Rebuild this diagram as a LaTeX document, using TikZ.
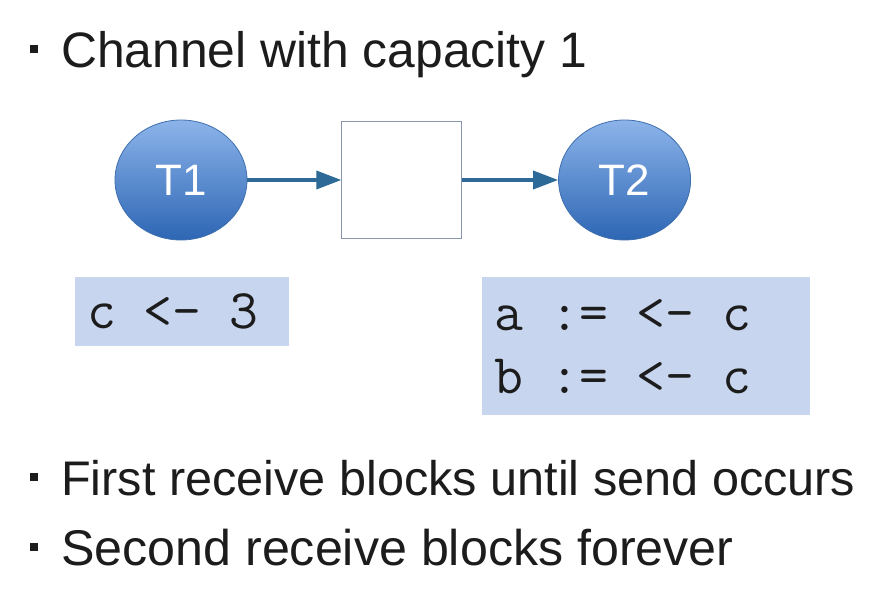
\documentclass[tikz,border=0pt]{standalone}
\usepackage{fontspec}
\setmainfont{Liberation Sans}
\usetikzlibrary{positioning,shapes.geometric,arrows.meta}
\definecolor{tasktop}{HTML}{8CB4EA}
\definecolor{taskbot}{HTML}{2D66B4}
\definecolor{taskedge}{HTML}{3F6FAD}
\definecolor{flowcol}{HTML}{2D6A97}
\definecolor{chanedge}{HTML}{8796AE}
\definecolor{codefill}{HTML}{C8D5EE}
\definecolor{textcol}{HTML}{1C1C1C}
% one fixed cell per character
\makeatletter
\newcommand\monoline[1]{\@tfor\ch:=#1\do{\makebox[28.5pt]{\ch}}}
\makeatother
\tikzset{
  task/.style={ellipse,minimum width=132pt,minimum height=120pt,draw=taskedge,thick,
    top color=tasktop,bottom color=taskbot,text=white,font=\fontsize{44}{50}\selectfont},
  chanbox/.style={draw=chanedge,thick,fill=white,minimum width=120pt,minimum height=117pt},
  code/.style={fill=codefill,align=left,inner ysep=0pt,
    font=\ttfamily\fontsize{56}{63}\selectfont},
  flow/.style={draw=flowcol,line width=3.5pt,-{Triangle[length=25pt,width=18pt]}}
}
\begin{document}
\begin{tikzpicture}[x=1pt,y=-1pt,text=textcol]
	\useasboundingbox[fill=white] (0,0) rectangle (887,611);
	% bullets
	\foreach \y/\s/\txt [count=\i] in {67/49.8/Channel with capacity 1,495/48.6/First receive blocks until send occurs,565/50.2/Second receive blocks forever}{
		\fill[textcol] (30,\y-22) rectangle ++(8,8);
		\node[anchor=base west,inner sep=0pt,font=\fontsize{\s}{58}\selectfont] (item\i) at (61,\y) {\txt};
	}
	% threads and channel
	\node[task] (T1) at (181,180) {T1};
	\node[chanbox,right=94pt of T1] (chan) {};
	\node[task,right=96pt of chan] (T2) {T2};
	\draw[flow] (T1) -- (chan);
	\draw[flow] (chan) -- (T2);
	% code
	\node[code,anchor=north west,text width=190pt,inner xsep=12pt,minimum height=69pt] (send) at (75,277) {\monoline{c~<-~3}};
	\node[code,anchor=north west,text width=304pt,inner xsep=12pt,minimum height=138pt] (recv) at (482,277) {\monoline{a~:=~<-~c}\\\monoline{b~:=~<-~c}};
\end{tikzpicture}
\end{document}
